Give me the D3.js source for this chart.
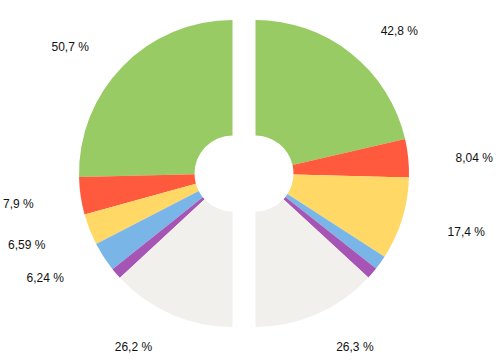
<!DOCTYPE html>
<html>
<head>
<meta charset="utf-8">
<script src="https://cdn.jsdelivr.net/npm/d3@7"></script>
<style>
  html, body { margin: 0; padding: 0; background: #fff; }
  svg { display: block; }
  text { font-family: "Liberation Sans", Arial, sans-serif; font-size: 12px; fill: #111; }
</style>
</head>
<body>
<div id="chart"></div>
<script>
const categories = ["Green", "Red", "Yellow", "Blue", "Purple", "Gray"];
const colors = ["#99cb65", "#ff5a3d", "#ffd865", "#79b5e7", "#a655b5", "#f1f0ec"];
const leftValues = [50.7, 7.9, 6.59, 6.24, 2.37, 26.2];
const rightValues = [42.8, 8.04, 17.4, 3.0, 2.46, 26.3];
const leftLabels = ["50,7 %", "7,9 %", "6,59 %", "6,24 %", "", "26,2 %"];
const rightLabels = ["42,8 %", "8,04 %", "17,4 %", "", "", "26,3 %"];

const W = 499, H = 361;
const cx = 244, cy = 173.5, gap = 11.5;
const outerR = 153.5, innerR = 38, labelRx = 201, labelRy = 186, labelShift = 3;

const svg = d3.select("#chart").append("svg").attr("width", W).attr("height", H);
const arc = d3.arc().innerRadius(innerR).outerRadius(outerR);

function half(values, labels, dir) {
  const pie = d3.pie().sort(null).value(d => d.v)
    .startAngle(0).endAngle(dir * Math.PI);
  const data = pie(values.map((v, i) => ({ v, i, label: labels[i] })));
  const g = svg.append("g").attr("transform", `translate(${cx + dir * gap},${cy})`);
  g.selectAll("path").data(data).enter().append("path")
    .attr("d", arc)
    .attr("fill", d => colors[d.data.i]);
  const mid = d => (d.startAngle + d.endAngle) / 2;
  g.selectAll("text").data(data.filter(d => d.data.label)).enter().append("text")
    .attr("x", d => labelRx * Math.sin(mid(d)))
    .attr("y", d => -labelRy * Math.cos(mid(d)) + labelShift)
    .attr("dy", "0.35em")
    .attr("text-anchor", dir < 0 ? "end" : "start")
    .text(d => d.data.label);
}

half(leftValues, leftLabels, -1);
half(rightValues, rightLabels, 1);
</script>
</body>
</html>
